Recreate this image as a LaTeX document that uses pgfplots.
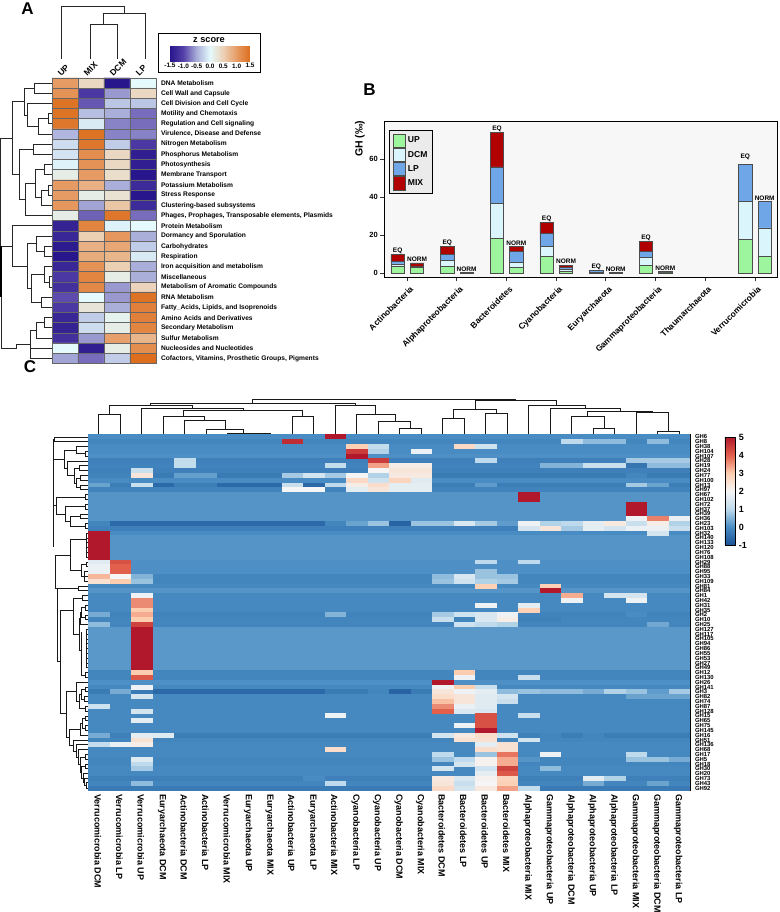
\documentclass[border=0pt]{standalone}
\usepackage{fontspec}
\setmainfont{Liberation Sans}
\usepackage{pgfplots}
\usepackage{pgfplotstable}
\pgfplotsset{compat=1.18}
\definecolor{cUP}{RGB}{157,245,157}
\definecolor{cDCM}{RGB}{218,245,252}
\definecolor{cLP}{RGB}{110,166,232}
\definecolor{cMIX}{RGB}{176,0,0}
\newcommand{\fs}[1]{\bfseries\fontsize{#1}{#1}\selectfont}
\pgfdeclareplotmark{cell}{\pgfpathrectangle{\pgfpoint{-10.75pt}{-2.48pt}}{\pgfpoint{21.5pt}{4.96pt}}\pgfusepathqfill}
\pgfdeclareplotmark{rowcell}{\pgfpathrectangle{\pgfpoint{-301pt}{-2.48pt}}{\pgfpoint{602pt}{4.96pt}}\pgfusepathqfill}
\tikzset{blab/.style={font=\fs{6.5},anchor=south,inner sep=0.8pt}}
\pgfplotsset{swatch/.style={legend image code/.code={\draw[fill=#1,draw=black!70,line width=.8pt] (0pt,-6.7pt) rectangle (12.5pt,6.7pt);}}}
\pgfplotstableread{
c r z
0 0 1.0
1 0 0.4
2 0 -1.5
3 0 0.0
0 1 1.1
1 1 -1.1
2 1 -0.6
3 1 0.4
0 2 1.45
1 2 -0.9
2 2 -0.35
3 2 -0.35
0 3 1.45
1 3 -0.4
2 3 -0.5
3 3 -0.8
0 4 1.4
1 4 -0.1
2 4 -0.7
3 4 -0.8
0 5 -0.45
1 5 1.45
2 5 -0.7
3 5 -0.7
0 6 -0.2
1 6 1.4
2 6 -0.3
3 6 -1.1
0 7 -0.15
1 7 1.15
2 7 0.4
3 7 -1.4
0 8 -0.05
1 8 1.1
2 8 0.4
3 8 -1.4
0 9 0.15
1 9 1.0
2 9 0.35
3 9 -1.5
0 10 1.0
1 10 0.8
2 10 -0.5
3 10 -1.25
0 11 1.0
1 11 0.15
2 11 0.3
3 11 -1.5
0 12 1.05
1 12 -0.55
2 12 0.6
3 12 -1.25
0 13 0.15
1 13 -0.85
2 13 1.4
3 13 -0.8
0 14 -1.35
1 14 1.25
2 14 -0.05
3 14 0.0
0 15 -1.3
1 15 0.5
2 15 1.05
3 15 -0.5
0 16 -1.45
1 16 0.8
2 16 0.9
3 16 -0.3
0 17 -1.5
1 17 0.85
2 17 0.75
3 17 -0.1
0 18 -1.3
1 18 1.1
2 18 0.5
3 18 -0.5
0 19 -1.1
1 19 1.25
2 19 0.15
3 19 -0.5
0 20 -1.2
1 20 1.2
2 20 -0.6
3 20 0.45
0 21 -0.95
1 21 0.0
2 21 -0.6
3 21 1.45
0 22 -1.1
1 22 0.25
2 22 -0.5
3 22 1.3
0 23 -1.3
1 23 -0.3
2 23 0.1
3 23 1.3
0 24 -1.35
1 24 -0.2
2 24 0.15
3 24 1.25
0 25 -1.2
1 25 -0.6
2 25 0.95
3 25 0.75
0 26 0.0
1 26 -1.4
2 26 0.15
3 26 1.15
0 27 -0.55
1 27 -0.8
2 27 -0.3
3 27 1.5
}\heatA
\pgfplotstableread{
x up dcm lp mix
-0.195 3.6 1.3 1.4 3.5
0.195 3.0 0.2 0.6 1.7
0.805 3.8 2.9 3.1 4.4
1.195 0.15 0.1 0.1 0.1
1.805 18.5 18.5 19.0 18.2
2.195 3.0 2.7 5.9 2.4
2.805 8.7 5.3 7.0 5.7
3.195 1.0 0.9 1.2 1.2
3.805 0.3 0.3 0.7 0.2
4.195 0.15 0.1 0.1 0.1
4.805 4.2 4.0 3.3 5.3
5.195 0.2 0.2 0.2 0.2
6.805 18.0 19.8 19.7 0
7.195 9.0 14.9 13.8 0
}\barsB
\begin{document}
\begin{tikzpicture}
\path[use as bounding box] (0,0) rectangle (779pt,912pt);
% ---------- overlay in image pixels: dendrograms, frames, panel letters
\begin{axis}[at={(0pt,0pt)},anchor=south west,scale only axis,width=779pt,height=912pt,
  xmin=0,xmax=779,ymin=0,ymax=912,y dir=reverse,hide axis,clip=false,unbounded coords=jump]
\addplot[no markers,line width=.9pt,color=black!85] coordinates {
(117,59)(117,24)(90,24)(90,59) (nan,nan)
(103.3,24)(103.3,13.3)(145,13.3)(145,59) (nan,nan)
(124,13.3)(124,6)(61.7,6)(61.7,59) (nan,nan)
(52,83.1)(34.3,83.1)(34.3,93.3)(52,93.3) (nan,nan)
(52,113.7)(48.3,113.7)(48.3,123.9)(52,123.9) (nan,nan)
(48.3,118.8)(38.3,118.8)(38.3,134.1)(52,134.1) (nan,nan)
(52,103.5)(27.3,103.5)(27.3,126.5)(38.3,126.5) (nan,nan)
(34.3,88.2)(24.5,88.2)(24.5,115)(27.3,115) (nan,nan)
(52,144.3)(33.5,144.3)(33.5,154.5)(52,154.5) (nan,nan)
(52,164.7)(44.5,164.7)(44.5,174.9)(52,174.9) (nan,nan)
(52,185.1)(48.3,185.1)(48.3,195.3)(52,195.3) (nan,nan)
(48.3,190.2)(41.7,190.2)(41.7,205.5)(52,205.5) (nan,nan)
(44.5,169.8)(35,169.8)(35,197.9)(41.7,197.9) (nan,nan)
(35,183.8)(25,183.8)(25,215.7)(52,215.7) (nan,nan)
(33.5,149.4)(19.5,149.4)(19.5,199.8)(25,199.8) (nan,nan)
(24.5,101.6)(12,101.6)(12,174.6)(19.5,174.6) (nan,nan)
(12,138)(0.7,138)(0.7,246)(12,246)(12,225.9)(52,225.9) (nan,nan)
(52,246.3)(44,246.3)(44,256.5)(52,256.5) (nan,nan)
(52,236.1)(36,236.1)(36,251.4)(44,251.4) (nan,nan)
(52,276.9)(49.3,276.9)(49.3,287.1)(52,287.1) (nan,nan)
(52,266.7)(44,266.7)(44,282)(49.3,282) (nan,nan)
(52,297.3)(41.7,297.3)(41.7,307.5)(52,307.5) (nan,nan)
(44,274.3)(31.7,274.3)(31.7,302.4)(41.7,302.4) (nan,nan)
(36,243.7)(27.3,243.7)(27.3,288)(31.7,288) (nan,nan)
(12,246)(12,266)(27.3,266) (nan,nan)
(52,317.7)(44,317.7)(44,327.9)(52,327.9) (nan,nan)
(44,322.8)(36,322.8)(36,338.1)(52,338.1) (nan,nan)
(52,348.3)(30,348.3)(30,358.5)(52,358.5) (nan,nan)
(36,330.5)(30,330.5)(30,348.3) (nan,nan)
(30,344)(16.7,344)(16.7,348)(1.7,348)(1.7,246) (nan,nan)
};
\addplot[no markers,line width=2pt,color=black] coordinates {(0.8,246)(0.8,297)};
% C top dendrogram
\addplot[no markers,line width=.75pt,color=black!90] coordinates {
(98.75,434)(98.75,414)(120.25,414)(120.25,434) (nan,nan)
(109.5,414)(109.5,405)(192.7,405)(192.7,408) (nan,nan)
(141.75,434)(141.75,408.3)(243.3,408.3)(243.3,410) (nan,nan)
(183,410)(302.7,410) (nan,nan)
(183,410)(183,416.7) (nan,nan)
(163.25,434)(163.25,416.7)(204.3,416.7)(204.3,420) (nan,nan)
(184.75,434)(184.75,420)(225,420)(225,429.3) (nan,nan)
(206.25,434)(206.25,429.3)(243.3,429.3)(243.3,434) (nan,nan)
(227.75,434)(227.75,433.3)(270.75,433.3)(270.75,434) (nan,nan)
(302.7,410)(302.7,416)(292.25,416)(292.25,434) (nan,nan)
(302.7,416)(313.75,416)(313.75,434) (nan,nan)
(150.7,405)(150.7,403.3)(355,403.3)(355,405) (nan,nan)
(335.25,434)(335.25,405)(375,405)(375,414) (nan,nan)
(356.75,434)(356.75,414)(395,414)(395,421.7) (nan,nan)
(378.25,434)(378.25,421.7)(410,421.7)(410,428.3) (nan,nan)
(399.75,434)(399.75,428.3)(421.25,428.3)(421.25,434) (nan,nan)
(252.7,403.3)(252.7,399.7)(516,399.7) (nan,nan)
(475,409.3)(475,400)(556.7,400)(556.7,405.3) (nan,nan)
(442.75,434)(442.75,418.3)(464.25,418.3)(464.25,434) (nan,nan)
(453.5,418.3)(453.5,409.3)(496.7,409.3)(496.7,413.3) (nan,nan)
(485.75,434)(485.75,413.3)(507.25,413.3)(507.25,434) (nan,nan)
(528.75,434)(528.75,405.3)(585.7,405.3)(585.7,408.3) (nan,nan)
(550.25,434)(550.25,408.3)(620.7,408.3)(620.7,411.7) (nan,nan)
(587,416)(587,411.7)(652.7,411.7)(652.7,412.7) (nan,nan)
(571.75,434)(571.75,416)(604,416)(604,428) (nan,nan)
(593.25,434)(593.25,428)(614.75,428)(614.75,434) (nan,nan)
(636.25,434)(636.25,412.7)(668.7,412.7)(668.7,431) (nan,nan)
(657.75,434)(657.75,431)(679.25,431)(679.25,434) (nan,nan)
% C left dendrogram
(88,436.9)(54,436.9)(54,441.7)(88,441.7) (nan,nan)
(88,451.3)(85,451.3)(85,456.1)(88,456.1) (nan,nan)
(88,446.5)(76,446.5)(76,453.7)(85,453.7) (nan,nan)
(88,465.8)(79,465.8)(79,470.6)(88,470.6) (nan,nan)
(88,475.4)(80,475.4)(80,480.2)(88,480.2) (nan,nan)
(88,485)(80,485)(80,489.8)(88,489.8) (nan,nan)
(80,478)(76,478)(76,487.4)(80,487.4) (nan,nan)
(79,468)(74,468)(74,483)(76,483) (nan,nan)
(88,461)(67,461)(67,475)(74,475) (nan,nan)
(76,450)(64,450)(64,468)(67,468) (nan,nan)
(54,459)(64,459) (nan,nan)
(88,494.6)(85,494.6)(85,499.4)(88,499.4) (nan,nan)
(88,504.2)(85,504.2)(85,509)(88,509) (nan,nan)
(88,513.9)(80,513.9)(80,518.7)(88,518.7) (nan,nan)
(88,523.5)(85,523.5)(85,528.3)(88,528.3) (nan,nan)
(80,516)(70,516)(70,526)(85,526) (nan,nan)
(85,506.6)(65,506.6)(65,521)(70,521) (nan,nan)
(85,497)(56.7,497)(56.7,514)(65,514) (nan,nan)
(53.3,439)(54,439) (nan,nan)
(53.3,440)(53.3,547) (nan,nan)
(53.3,505.5)(56.7,505.5) (nan,nan)
(86,533.1)(88,533.1) (nan,nan) (86,537.9)(88,537.9) (nan,nan) (86,542.7)(88,542.7) (nan,nan)
(86,547.5)(88,547.5) (nan,nan) (86,552.3)(88,552.3) (nan,nan) (86,557.1)(88,557.1) (nan,nan)
(86,533.1)(86,557.1) (nan,nan)
(88,562)(86,562)(86,566.8)(88,566.8) (nan,nan)
(88,571.6)(84,571.6)(84,581.2)(88,581.2) (nan,nan)
(84,576.4)(88,576.4) (nan,nan)
(86,564.4)(81.7,564.4)(81.7,576.4)(84,576.4) (nan,nan)
(86,539)(70.7,539)(70.7,570)(81.7,570) (nan,nan)
(70.7,555)(55,555)(55,588) (nan,nan)
(88,586)(78,586)(78,590.8)(88,590.8) (nan,nan)
(55,588)(78,588) (nan,nan)
(57,588)(57,661)(60,661) (nan,nan)
(60,610)(60,713) (nan,nan)
(88,595.6)(82,595.6)(82,600.4)(88,600.4) (nan,nan)
(88,605.2)(85,605.2)(85,610)(88,610) (nan,nan)
(88,614.9)(85,614.9)(85,619.7)(88,619.7) (nan,nan)
(85,607.6)(81,607.6)(81,617)(85,617) (nan,nan)
(81,612)(80,612)(80,624.5)(88,624.5) (nan,nan)
(80,618)(79,618)(79,650)(81.5,650) (nan,nan)
(82,598)(73,598)(73,634)(79,634) (nan,nan)
(60,610)(73,610) (nan,nan)
(86,629.3)(88,629.3) (nan,nan) (86,634.1)(88,634.1) (nan,nan) (86,638.9)(88,638.9) (nan,nan)
(86,643.7)(88,643.7) (nan,nan) (86,648.5)(88,648.5) (nan,nan) (86,653.3)(88,653.3) (nan,nan)
(86,658.1)(88,658.1) (nan,nan) (86,663)(88,663) (nan,nan) (86,667.8)(88,667.8) (nan,nan)
(86,629.3)(86,667.8) (nan,nan)
(88,672.6)(85,672.6)(85,677.4)(88,677.4) (nan,nan)
(81.5,632)(81.5,675)(85,675) (nan,nan)
(88,687)(85,687)(85,691.8)(88,691.8) (nan,nan)
(88,696.6)(84,696.6)(84,701.4)(88,701.4) (nan,nan)
(85,689)(81,689)(81,699)(84,699) (nan,nan)
(88,706.2)(85,706.2)(85,711)(88,711) (nan,nan)
(81,694)(79.5,694)(79.5,708.6)(85,708.6) (nan,nan)
(88,682.2)(76,682.2)(76,701)(79.5,701) (nan,nan)
(88,715.9)(85,715.9)(85,720.7)(88,720.7) (nan,nan)
(88,725.5)(85,725.5)(85,730.3)(88,730.3) (nan,nan)
(85,718)(82,718)(82,728)(85,728) (nan,nan)
(82,723)(80,723)(80,735.1)(88,735.1) (nan,nan)
(88,782)(86,782)(86,788)(88,788) (nan,nan)
(88,778.4)(84,778.4)(84,785)(86,785) (nan,nan)
(88,773.6)(83,773.6)(83,782)(84,782) (nan,nan)
(88,763.9)(85,763.9)(85,768.8)(88,768.8) (nan,nan)
(85,766)(81,766)(81,778)(83,778) (nan,nan)
(88,754.3)(85,754.3)(85,759.1)(88,759.1) (nan,nan)
(85,757)(80,757)(80,772)(81,772) (nan,nan)
(88,749.5)(78,749.5)(78,764)(80,764) (nan,nan)
(88,744.7)(76,744.7)(76,757)(78,757) (nan,nan)
(88,739.9)(73,739.9)(73,751)(76,751) (nan,nan)
(80,729)(69,729)(69,745)(73,745) (nan,nan)
(76,691)(66,691)(66,737)(69,737) (nan,nan)
(60,713)(66,713) (nan,nan)
};
\draw[line width=1pt] (axis cs:158,34) rectangle (axis cs:260,72.7);
\node[font=\fs{9.2}] at (axis cs:209,40.5) {z score};
\node[font=\fs{17},anchor=center] at (axis cs:27.5,9) {A};
\node[font=\fs{17},anchor=center] at (axis cs:369.5,90) {B};
\node[font=\fs{17},anchor=center] at (axis cs:30,367) {C};
\end{axis}
% ---------- Panel A
\begin{axis}[at={(52pt,548.4pt)},anchor=south west,scale only axis,width=104pt,height=285.6pt,
  xmin=-0.5,xmax=3.5,ymin=-0.5,ymax=27.5,y dir=reverse,
  colormap={zs}{rgb255=(40,22,140) rgb255=(85,65,168) rgb255=(170,175,218) rgb255=(228,250,252) rgb255=(236,208,180) rgb255=(230,155,100) rgb255=(220,110,30)},
  point meta min=-1.5,point meta max=1.5,
  axis on top,axis line style={draw=black!60,line width=.7pt},major tick length=0pt,minor tick length=0pt,
  minor xtick={0.5,1.5,2.5},minor ytick={0.5,1.5,...,26.5},grid=minor,minor grid style={draw=black!60,line width=.7pt},
  xtick={0,1,2,3},xticklabels={UP,MIX,DCM,LP},xticklabel pos=top,
  xticklabel style={font=\fs{8.5},rotate=45,anchor=south west,xshift=-5pt,yshift=0pt},
  ytick={0,...,27},yticklabel pos=right,
  yticklabels={DNA Metabolism,Cell Wall and Capsule,Cell Division and Cell Cycle,Motility and Chemotaxis,Regulation and Cell signaling,{Virulence, Disease and Defense},Nitrogen Metabolism,Phosphorus Metabolism,Photosynthesis,Membrane Transport,Potassium Metabolism,Stress Response,Clustering-based subsystems,{Phages, Prophages, Transposable elements, Plasmids},Protein Metabolism,Dormancy and Sporulation,Carbohydrates,Respiration,Iron acquisition and metabolism,Miscellaneous,Metabolism of Aromatic Compounds,RNA Metabolism,{Fatty\_Acids, Lipids, and Isoprenoids},Amino Acids and Derivatives,Secondary Metabolism,Sulfur Metabolism,Nucleosides and Nucleotides,{Cofactors, Vitamins, Prosthetic Groups, Pigments}},
  yticklabel style={font=\fs{6.65},anchor=west,xshift=1.5pt},
  colorbar horizontal,
  colorbar style={at={(1.1346,1.119)},anchor=north west,width=80pt,height=17pt,
    grid=none,minor xtick={},minor ytick={},axis on top=false,
    xtick={-1.5,-1,-0.5,0,0.5,1,1.5},xticklabels={-1.5,-1.0,-0.5,0.0,0.5,1.0,1.5},
    xticklabel pos=bottom,xtick style={draw=white,line width=.6pt},tick align=inside,major tick length=3pt,
    xticklabel style={font=\fs{6.4},rotate=0,anchor=north,xshift=0pt,yshift=1pt},
    axis line style={draw=none}}]
\addplot[matrix plot*,mesh/cols=4,point meta=explicit] table[x=c,y=r,meta=z] {\heatA};
\end{axis}
% ---------- Panel B
\begin{axis}[at={(384.3pt,634.7pt)},anchor=south west,scale only axis,width=393.4pt,height=155.6pt,
  ybar stacked,bar width=13.3pt,
  xmin=-0.463,xmax=7.457,ymin=-2.1,ymax=79.8,
  axis background/.style={fill=black!3},
  axis line style={line width=1.4pt},
  tick align=outside,xtick pos=bottom,ytick pos=left,
  major tick length=4pt,every tick/.style={line width=1pt,black!80},
  xtick={0,...,7},xticklabels={Actinobacteria,Alphaproteobacteria,Bacteroidetes,Cyanobacteria,Euryarchaeota,Gammaproteobacteria,Thaumarchaeota,Verrucomicrobia},
  xticklabel style={font=\fs{8.4},rotate=45,anchor=north east,xshift=2pt,yshift=-1pt},
  ytick={0,20,40,60},yticklabel style={font=\fs{7.5},xshift=1pt},
  /pgf/number format/assume math mode=true,
  ylabel={GH (‰)},every axis y label/.style={at={(axis description cs:-0.062,0.89)},rotate=90,anchor=center,font=\fs{10.5}},
  legend style={at={(0.012,0.947)},anchor=north west,draw=black,line width=1.2pt,fill=black!8,
    font=\fs{8.6},inner sep=3pt,cells={anchor=west},legend columns=1}]
\addplot[fill=cUP,draw=black!70,line width=.7pt,swatch=cUP] table[x=x,y=up] {\barsB};
\addlegendentry{UP}
\addplot[fill=cDCM,draw=black!70,line width=.7pt,swatch=cDCM] table[x=x,y=dcm] {\barsB};
\addlegendentry{DCM}
\addplot[fill=cLP,draw=black!70,line width=.7pt,swatch=cLP] table[x=x,y=lp] {\barsB};
\addlegendentry{LP}
\addplot[fill=cMIX,draw=black!70,line width=.7pt,swatch=cMIX] table[x=x,y=mix] {\barsB};
\addlegendentry{MIX}
\node[blab] at (axis cs:-0.195,9.8) {EQ};
\node[blab] at (axis cs:0.195,5.5) {NORM};
\node[blab] at (axis cs:0.805,14.2) {EQ};
\node[blab] at (axis cs:1.195,0.5) {NORM};
\node[blab] at (axis cs:1.805,74.2) {EQ};
\node[blab] at (axis cs:2.195,14) {NORM};
\node[blab] at (axis cs:2.805,26.7) {EQ};
\node[blab] at (axis cs:3.195,4.4) {NORM};
\node[blab] at (axis cs:3.805,1.5) {EQ};
\node[blab] at (axis cs:4.195,0.5) {NORM};
\node[blab] at (axis cs:4.805,16.8) {EQ};
\node[blab] at (axis cs:5.195,0.8) {NORM};
\node[blab] at (axis cs:6.805,59) {EQ};
\node[blab] at (axis cs:7.195,38) {NORM};
\end{axis}
% ---------- Panel C
\begin{axis}[at={(88pt,121.5pt)},anchor=south west,scale only axis,width=602pt,height=356pt,
  xmin=-0.5,xmax=27.5,ymin=-0.5,ymax=73.5,y dir=reverse,
  axis on top,axis line style={line width=.9pt},major tick length=0pt,
  colormap={rdbu}{rgb255=(26,82,150) rgb255=(72,140,195) rgb255=(190,218,236) rgb255=(245,245,245) rgb255=(253,205,175) rgb255=(225,95,75) rgb255=(178,24,43)},
  point meta min=-1,point meta max=5,
  scatter/use mapped color={draw=mapped color,fill=mapped color},
  xtick={0,...,27},
  xticklabels={Verrucomicrobia DCM,Verrucomicrobia LP,Verrucomicrobia UP,Euryarchaeota DCM,Actinobacteria DCM,Actinobacteria LP,Verrucomicrobia MIX,Euryarchaeota UP,Euryarchaeota MIX,Actinobacteria UP,Euryarchaeota LP,Actinobacteria MIX,Cyanobacteria LP,Cyanobacteria UP,Cyanobacteria DCM,Cyanobacteria MIX,Bacteroidetes DCM,Bacteroidetes LP,Bacteroidetes UP,Bacteroidetes MIX,Alphaproteobacteria MIX,Gammaproteobacteria UP,Alphaproteobacteria DCM,Alphaproteobacteria UP,Alphaproteobacteria LP,Gammaproteobacteria MIX,Gammaproteobacteria DCM,Gammaproteobacteria LP},
  xticklabel style={font=\fs{9},rotate=-90,anchor=west,xshift=0pt,yshift=-1pt},
  ytick={0,...,73},yticklabel pos=right,
  yticklabels={GH6,GH8,GH38,GH104,GH107,GH28,GH19,GH24,GH77,GH100,GH13,GH97,GH67,GH102,GH72,GH37,GH39,GH36,GH23,GH103,GH32,GH140,GH133,GH120,GH76,GH108,GH29,GH88,GH95,GH33,GH109,GH81,GH84,GH1,GH42,GH31,GH35,GH2,GH10,GH25,GH127,GH117,GH105,GH94,GH86,GH55,GH53,GH27,GH49,GH12,GH130,GH26,GH141,GH3,GH82,GH74,GH87,GH128,GH15,GH65,GH75,GH145,GH16,GH51,GH136,GH68,GH17,GH5,GH18,GH30,GH20,GH73,GH43,GH92},
  yticklabel style={font=\fs{5.9},anchor=west,xshift=1.5pt},
  colorbar,
  colorbar style={at={(1.058,0.993)},anchor=north west,width=10.5pt,height=108pt,
    ytick={-1,0,1,2,3,4,5},yticklabel pos=right,major tick length=0pt,
    axis line style={line width=.8pt},
    yticklabel style={font=\fs{9},xshift=0pt},
    /pgf/number format/assume math mode=true}]
\addplot[scatter,only marks,mark=rowcell,point meta=explicit] coordinates {
(13.5,0)[0] (13.5,1)[-.1] (13.5,2)[0] (13.5,3)[0] (13.5,4)[.05] (13.5,5)[-.2] (13.5,6)[-.15] (13.5,7)[-.2] (13.5,8)[-.3] (13.5,9)[0]
(13.5,10)[-.25] (13.5,11)[-.15] (13.5,12)[.1] (13.5,13)[.1] (13.5,14)[.1] (13.5,15)[.1] (13.5,16)[.1] (13.5,17)[.1] (13.5,18)[-.1] (13.5,19)[-.2]
(13.5,20)[0] (13.5,21)[.1] (13.5,22)[.1] (13.5,23)[.1] (13.5,24)[.1] (13.5,25)[.1] (13.5,26)[.05] (13.5,27)[.05] (13.5,28)[.05] (13.5,29)[-.1]
(13.5,30)[-.1] (13.5,31)[-.05] (13.5,32)[.1] (13.5,33)[-.05] (13.5,34)[-.05] (13.5,35)[-.05] (13.5,36)[-.05] (13.5,37)[-.15] (13.5,38)[-.1] (13.5,39)[-.1]
(13.5,40)[.15] (13.5,41)[.15] (13.5,42)[.15] (13.5,43)[.15] (13.5,44)[.15] (13.5,45)[.15] (13.5,46)[.15] (13.5,47)[.15] (13.5,48)[.15] (13.5,49)[-.1]
(13.5,50)[-.1] (13.5,51)[.05] (13.5,52)[-.05] (13.5,53)[-.3] (13.5,54)[-.05] (13.5,55)[-.05] (13.5,56)[-.05] (13.5,57)[-.05] (13.5,58)[-.05] (13.5,59)[-.05]
(13.5,60)[-.05] (13.5,61)[-.05] (13.5,62)[-.25] (13.5,63)[-.1] (13.5,64)[-.05] (13.5,65)[-.05] (13.5,66)[-.05] (13.5,67)[-.1] (13.5,68)[-.1] (13.5,69)[-.05]
(13.5,70)[-.05] (13.5,71)[-.2] (13.5,72)[-.1] (13.5,73)[-.3]
};
\addplot[scatter,only marks,mark=cell,point meta=explicit] coordinates {
(11,0)[5]
(9,1)[4.7] (22,1)[1] (23,1)[.6] (24,1)[.6] (26,1)[.6]
(12,2)[2.9] (13,2)[1.1] (17,2)[2.7] (18,2)[1.3]
(12,3)[4.5] (13,3)[.9] (15,3)[1.8]
(12,4)[5]
(4,5)[1.1] (13,5)[4.5] (18,5)[1] (25,5)[.8] (26,5)[.8] (27,5)[.8]
(4,6)[1.1] (11,6)[1.1] (13,6)[3.4] (14,6)[2.2] (15,6)[2.2] (21,6)[.5] (22,6)[.5] (23,6)[1.2] (24,6)[1.2] (25,6)[-.4] (26,6)[.6] (27,6)[.6]
(2,7)[1.2] (13,7)[2] (14,7)[2.4] (15,7)[2.4]
(0,8)[-.15] (1,8)[-.15] (2,8)[2.4] (4,8)[.25] (5,8)[.25] (9,8)[.8] (10,8)[1.4] (11,8)[.8] (12,8)[2] (13,8)[.9] (14,8)[2.3] (15,8)[2.3] (25,8)[-.1]
(12,9)[2.7] (13,9)[1.3] (14,9)[2.8] (15,9)[1.6]
(0,10)[.3] (2,10)[1.2] (3,10)[-.6] (6,10)[-.6] (7,10)[-.6] (8,10)[-.6] (9,10)[1.2] (10,10)[-.6] (11,10)[1] (12,10)[2.2] (13,10)[2.6] (14,10)[1.7] (15,10)[1.7] (18,10)[.2] (25,10)[.8] (26,10)[.3]
(9,11)[2] (10,11)[2] (12,11)[1.7] (13,11)[2.4] (14,11)[1.7] (15,11)[1.7]
(20,12)[5] (20,13)[5] (25,14)[5] (25,15)[5] (25,16)[5]
(25,17)[1.9] (26,17)[3.7] (27,17)[1.8]
(1,18)[-.6] (2,18)[-.6] (3,18)[-.6] (4,18)[-.6] (5,18)[-.6] (6,18)[-.6] (7,18)[-.6] (8,18)[-.6] (9,18)[-.6] (10,18)[-.6]
(12,18)[.3] (13,18)[.7] (14,18)[-.7] (15,18)[.7] (16,18)[.7] (17,18)[1.5] (18,18)[.8] (19,18)[.2] (20,18)[1.9] (21,18)[.9] (22,18)[1] (23,18)[1.7] (24,18)[2.3] (25,18)[1.2] (26,18)[2.2] (27,18)[.9]
(20,19)[1.4] (21,19)[2.4] (22,19)[.8] (23,19)[1.7] (24,19)[1.4] (25,19)[1.8] (26,19)[1.8] (27,19)[1.2]
(0,20)[5] (26,20)[1.4]
(0,21)[5] (0,22)[5] (0,23)[5] (0,24)[5] (0,25)[5]
(0,26)[1.6] (1,26)[4.2] (18,26)[1] (20,26)[1]
(0,27)[1.8] (1,27)[4]
(0,28)[1.8] (1,28)[4] (18,28)[.7]
(0,29)[3.2] (1,29)[2] (2,29)[.5] (16,29)[.6] (17,29)[1.5] (18,29)[.7] (19,29)[.7]
(0,30)[2.5] (1,30)[3] (2,30)[.7] (16,30)[.7] (17,30)[1.3] (18,30)[.9] (19,30)[.8]
(18,31)[2.9] (21,31)[2.9]
(21,32)[5]
(2,33)[1.9] (22,33)[3.3] (24,33)[1.4] (25,33)[1.4]
(2,34)[3.6] (22,34)[1.9] (25,34)[1.9]
(2,35)[3.6] (18,35)[1.9] (20,35)[1.7]
(2,36)[3] (20,36)[2.9]
(0,37)[.4] (2,37)[3.3] (11,37)[.5] (16,37)[.8] (17,37)[1.3] (18,37)[1.5] (19,37)[1.9] (25,37)[0]
(2,38)[3] (16,38)[1.2] (18,38)[1.5] (19,38)[2.2] (20,38)[-.2] (21,38)[-.2]
(0,39)[.6] (2,39)[4.4] (17,39)[1.3] (18,39)[1] (19,39)[.9] (26,39)[.35]
(2,40)[5] (2,41)[5] (2,42)[5] (2,43)[5] (2,44)[5] (2,45)[5] (2,46)[5] (2,47)[5] (2,48)[5]
(2,49)[3] (17,49)[3]
(2,50)[4.1] (17,50)[1.9] (20,50)[1.2]
(16,51)[5]
(2,52)[1.9] (16,52)[1.9] (17,52)[3] (18,52)[1.2]
(1,53)[.4] (3,53)[-.6] (4,53)[-.6] (5,53)[-.6] (6,53)[-.6] (7,53)[-.6] (8,53)[-.6] (9,53)[-.6] (10,53)[-.6] (13,53)[-.1] (14,53)[-.7] (16,53)[2.4] (17,53)[1.9] (18,53)[1.7] (19,53)[.6] (20,53)[.7] (21,53)[.6] (22,53)[.6] (23,53)[.4] (24,53)[.9] (25,53)[.7] (26,53)[.2] (27,53)[.8]
(2,54)[1.4] (16,54)[2.6] (17,54)[2.4] (18,54)[1.6] (19,54)[1.4] (25,54)[.3] (26,54)[.3] (27,54)[.3]
(16,55)[3.1] (17,55)[2.4] (18,55)[1.6] (19,55)[1.2]
(0,56)[1.3] (16,56)[3.6] (17,56)[1.8] (18,56)[1.6]
(2,57)[1.4] (16,57)[4] (17,57)[1.5] (18,57)[1.5]
(11,58)[1.9] (18,58)[4.2] (20,58)[1.2]
(2,59)[1.7] (18,59)[4.2]
(17,60)[1.9] (18,60)[4.2]
(18,61)[5]
(0,62)[.4] (1,62)[-.2] (2,62)[1.7] (3,62)[1.6] (16,62)[1.4] (17,62)[2.3] (18,62)[2.6] (19,62)[1.3] (20,62)[-.2] (21,62)[-.1] (23,62)[-.1]
(2,63)[2.5] (17,63)[2.5] (18,63)[2.5] (20,63)[1.4]
(0,64)[1.1] (1,64)[1.8] (2,64)[2.2] (18,64)[1.7] (19,64)[2.5]
(11,65)[2.6] (18,65)[2.6] (19,65)[2.5]
(16,66)[1] (18,66)[.7] (19,66)[3.8] (21,66)[1.9] (25,66)[1]
(2,67)[1.6] (16,67)[.7] (17,67)[1] (18,67)[2.1] (19,67)[3.3] (20,67)[.1] (25,67)[.7] (26,67)[.7] (27,67)[.4]
(2,68)[1] (17,68)[1.4] (18,68)[2.1] (19,68)[3.3]
(2,69)[.8] (16,69)[1.4] (18,69)[1.3] (19,69)[4.4] (21,69)[.6]
(18,70)[1.7] (19,70)[4.1]
(10,71)[0] (16,71)[2.3] (17,71)[1.5] (18,71)[2.1] (19,71)[2.8] (23,71)[1.7] (24,71)[.9]
(2,72)[.6] (11,72)[1] (16,72)[2.4] (17,72)[1.2] (18,72)[2] (19,72)[2.9] (23,72)[.4] (26,72)[.3]
(16,73)[2.7] (17,73)[1.4] (18,73)[2.3] (19,73)[3.4] (20,73)[1.1]
};
\end{axis}
\end{tikzpicture}
\end{document}
